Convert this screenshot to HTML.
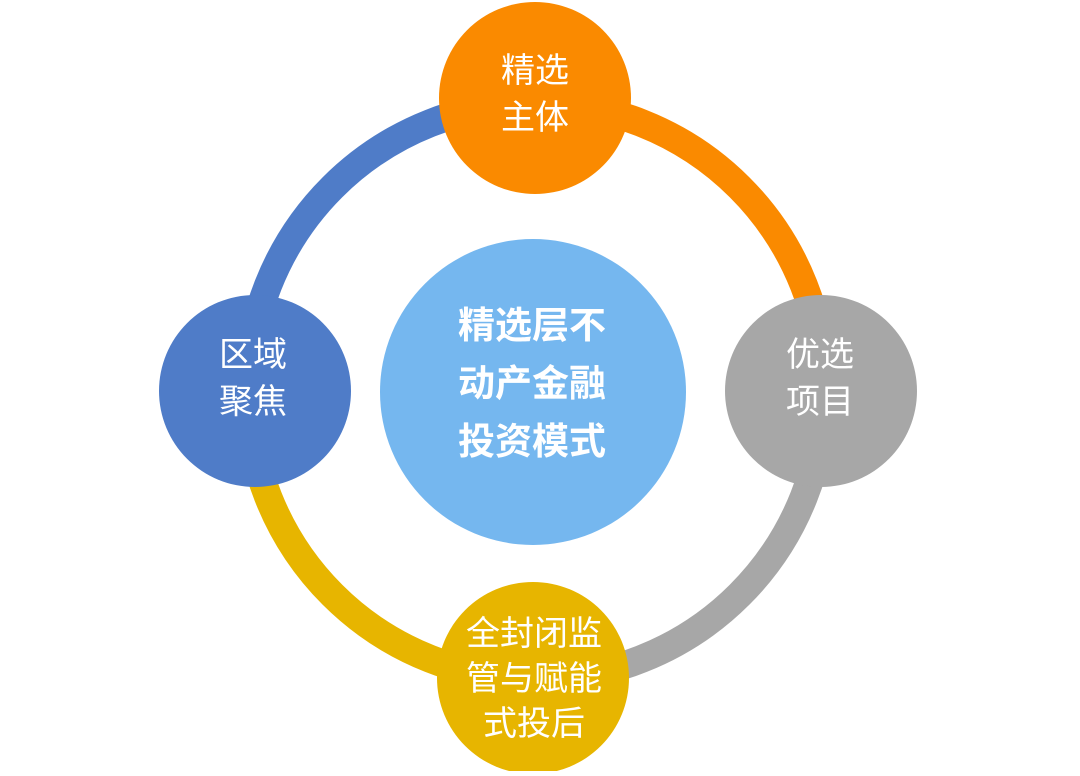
<!DOCTYPE html>
<html><head><meta charset="utf-8"><style>
body{margin:0;background:#fff;}
svg text{font-family:"Liberation Sans","Noto Sans CJK SC",sans-serif;fill:#fff;text-anchor:middle;}
</style></head><body>
<svg width="1080" height="771" viewBox="0 0 1080 771">
<g fill="none" stroke-width="28">
<path d="M248 391 A288 288 0 0 1 536 103" stroke="#4f7cc8"/>
<path d="M536 103 A288 288 0 0 1 824 391" stroke="#fa8a00"/>
<path d="M824 391 A288 288 0 0 1 536 679" stroke="#a7a7a7"/>
<path d="M536 679 A288 288 0 0 1 248 391" stroke="#e7b500"/>
</g>
<circle cx="533" cy="392" r="153" fill="#75b7ef"/>
<circle cx="535" cy="98" r="96" fill="#fa8a00"/>
<circle cx="255" cy="391" r="96" fill="#4f7cc8"/>
<circle cx="821" cy="391" r="96" fill="#a7a7a7"/>
<circle cx="533" cy="678" r="96" fill="#e7b500"/>
<g font-size="34">
<text x="535" y="82">精选</text><text x="535" y="129">主体</text>
<text x="253" y="366">区域</text><text x="253" y="413">聚焦</text>
<text x="820" y="366">优选</text><text x="820" y="413">项目</text>
<text x="534" y="645">全封闭监</text><text x="534" y="690">管与赋能</text><text x="534" y="735">式投后</text>
</g>
<g font-size="37" font-weight="bold">
<text x="532" y="338">精选层不</text><text x="532" y="396">动产金融</text><text x="532" y="454">投资模式</text>
</g>
</svg>
</body></html>
